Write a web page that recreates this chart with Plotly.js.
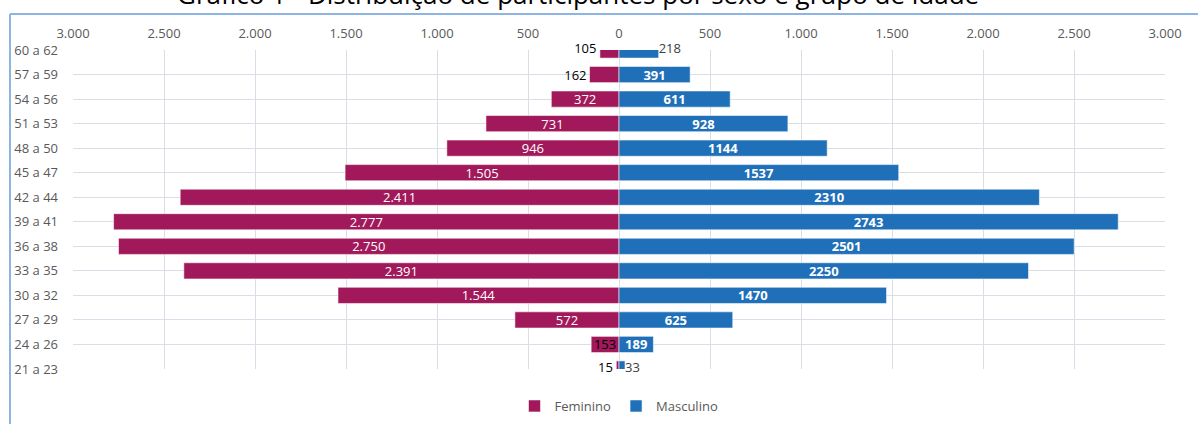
<!DOCTYPE html>
<html>
<head>
<meta charset="utf-8">
<script src="https://cdn.plot.ly/plotly-3.0.1.min.js"></script>
<style>
html,body{margin:0;padding:0;background:#fff;}
#chart{width:1198px;height:424px;}
</style>
</head>
<body>
<div id="chart"></div>
<script>
// Age groups, bottom to top
const categories = ['21 a 23','24 a 26','27 a 29','30 a 32','33 a 35','36 a 38','39 a 41','42 a 44','45 a 47','48 a 50','51 a 53','54 a 56','57 a 59','60 a 62'];
const feminino  = [15, 153, 572, 1544, 2391, 2750, 2777, 2411, 1505, 946, 731, 372, 162, 105];
const masculino = [33, 189, 625, 1470, 2250, 2501, 2743, 2310, 1537, 1144, 928, 611, 391, 218];
const xTickVals = [-3000,-2500,-2000,-1500,-1000,-500,0,500,1000,1500,2000,2500,3000];
const xTickText = ['3.000','2.500','2.000','1.500','1.000','500','0','500','1.000','1.500','2.000','2.500','3.000'];
const titleText = 'Gráfico 1 - Distribuição de participantes por sexo e grupo de idade';

const FEM = '#A2195B', MASC = '#1F70B8';
const fmtPt = v => v.toLocaleString('de-DE');
const edgeIdx = [0, categories.length - 1];
const isEdge = i => edgeIdx.includes(i);

// bar-label settings
const femPos = feminino.map((v,i) => (v < 200 && v !== 153) ? 'outside' : 'inside');
const femText = feminino.map((v,i) => isEdge(i) ? '' : fmtPt(v));
const femCol = feminino.map((v,i) => femPos[i] === 'outside' || v === 153 ? '#000000' : '#ffffff');
const mascPos = masculino.map(v => v < 150 ? 'outside' : 'inside');
const mascText = masculino.map((v,i) => isEdge(i) ? '' : String(v));

const font = 'Open Sans, Noto Sans, sans-serif';

const traces = [
  {
    type:'bar', orientation:'h', name:'Feminino',
    y: categories, x: feminino.map(v => -v),
    text: femText, textposition: femPos, insidetextanchor:'middle',
    textfont:{family:font, size:13, color:femCol},
    constraintext:'none', cliponaxis:true,
    marker:{color:FEM, line:{color:'rgba(255,255,255,0.55)', width:1}},
    hoverinfo:'skip'
  },
  {
    type:'bar', orientation:'h', name:'Masculino',
    y: categories, x: masculino,
    text: mascText, textposition: mascPos, insidetextanchor:'middle',
    textfont:{family:font, size:13, color:'#ffffff', weight:'bold'},
    constraintext:'none', cliponaxis:true,
    marker:{color:MASC, line:{color:'rgba(255,255,255,0.55)', width:1}},
    hoverinfo:'skip'
  },
  {
    type:'scatter', mode:'text', showlegend:false, cliponaxis:false,
    y: edgeIdx.map(i => categories[i]), x: edgeIdx.map(i => -feminino[i]),
    text: edgeIdx.map(i => fmtPt(feminino[i]) + ' '),
    textposition:'middle left',
    textfont:{family:font, size:13, color:'#000000'}, hoverinfo:'skip'
  },
  {
    type:'scatter', mode:'text', showlegend:false, cliponaxis:false,
    y: edgeIdx.map(i => categories[i]), x: edgeIdx.map(i => masculino[i]),
    text: edgeIdx.map(i => String(masculino[i])),
    textposition:'middle right',
    textfont:{family:font, size:13, color:'#404040'}, hoverinfo:'skip'
  }
];

const L = 73, R = 33, T = 50, B = 55, W = 1198, H = 424;
const pw = W - L - R, ph = H - T - B;
const px2x = p => (p - L) / pw;
const py2y = p => (H - B - p) / ph;
const frame = '#8DB4E2';

const layout = {
  width:W, height:H,
  margin:{l:L, r:R, t:T, b:B, pad:0, autoexpand:false},
  paper_bgcolor:'#ffffff', plot_bgcolor:'#ffffff',
  barmode:'overlay', bargap:0.34,
  showlegend:true,
  font:{family:font, size:13, color:'#595959'},
  xaxis:{
    side:'top', range:[-3000,3000], tickvals:xTickVals, ticktext:xTickText,
    showgrid:true, gridcolor:'#D9DDE6', gridwidth:1,
    zeroline:true, zerolinecolor:'#D9DDE6', zerolinewidth:1,
    showline:false, ticks:'', ticklabelstandoff:8,
    tickfont:{family:font, size:13, color:'#595959'}, fixedrange:true
  },
  yaxis:{
    type:'category', categoryorder:'array', categoryarray:categories,
    range:[0, categories.length - 1],
    showgrid:true, gridcolor:'#D9DDE6', gridwidth:1,
    showline:false, ticks:'', ticklabelstandoff:14,
    tickfont:{family:font, size:13, color:'#595959'}, fixedrange:true
  },
  legend:{orientation:'h', x:0.5, xanchor:'center', y:py2y(406), yanchor:'middle',
          font:{family:font, size:13, color:'#595959'}, traceorder:'normal'},
  annotations:[
    {text:titleText, xref:'paper', yref:'paper', x:px2x(578), y:py2y(-6), xanchor:'center', yanchor:'middle',
     showarrow:false, font:{family:font, size:26, color:'#000000'}}
  ],
  shapes:[
    {type:'line', xref:'paper', yref:'paper', x0:px2x(10), x1:px2x(W+5), y0:py2y(14), y1:py2y(14), line:{color:frame, width:2}},
    {type:'line', xref:'paper', yref:'paper', x0:px2x(10), x1:px2x(10), y0:py2y(14), y1:py2y(H+5), line:{color:frame, width:2}}
  ]
};

Plotly.newPlot('chart', traces, layout, {displayModeBar:false, staticPlot:true});
</script>
</body>
</html>
